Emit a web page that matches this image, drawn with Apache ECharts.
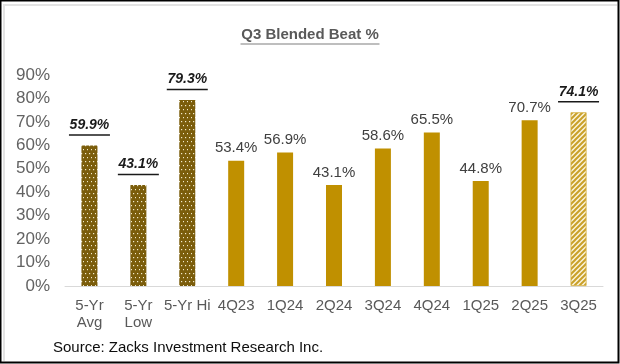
<!DOCTYPE html>
<html>
<head>
<meta charset="utf-8">
<script src="https://cdn.jsdelivr.net/npm/echarts@6/dist/echarts.min.js"></script>
<style>
html,body{margin:0;padding:0;background:#fff;}
#c{width:620px;height:364px;}
</style>
</head>
<body>
<div id="c"></div>
<script>
// ---- data ----
var categories = ['5-Yr\nAvg', '5-Yr\nLow', '5-Yr Hi', '4Q23', '1Q24', '2Q24', '3Q24', '4Q24', '1Q25', '2Q25', '3Q25'];
var values = [59.9, 43.1, 79.3, 53.4, 56.9, 43.1, 58.6, 65.5, 44.8, 70.7, 74.1];
var kinds = ['bench', 'bench', 'bench', 'actual', 'actual', 'actual', 'actual', 'actual', 'actual', 'actual', 'estimate'];
var yTicks = [0, 10, 20, 30, 40, 50, 60, 70, 80, 90];
var titleText = 'Q3 Blended Beat %';
var sourceText = 'Source: Zacks Investment Research Inc.';

var FONT = '"Liberation Sans", Arial, sans-serif';

function measure(txt, font) {
  var cv = document.createElement('canvas');
  var ctx = cv.getContext('2d');
  ctx.font = font;
  return ctx.measureText(txt).width;
}

function dotPattern() {
  var cv = document.createElement('canvas');
  cv.width = 4; cv.height = 8;
  var ctx = cv.getContext('2d');
  ctx.fillStyle = '#7B5D0B';
  ctx.fillRect(0, 0, 4, 8);
  ctx.fillStyle = 'rgba(255,250,225,0.9)';
  ctx.fillRect(1, 1, 1.2, 1.2);
  ctx.fillRect(3, 5, 1.2, 1.2);
  return cv;
}
function hatchPattern() {
  var s = 5;
  var cv = document.createElement('canvas');
  cv.width = s; cv.height = s;
  var ctx = cv.getContext('2d');
  ctx.fillStyle = '#FBF3DA';
  ctx.fillRect(0, 0, s, s);
  ctx.strokeStyle = '#C9A02A';
  ctx.lineWidth = 2;
  ctx.beginPath();
  ctx.moveTo(-1, s + 1); ctx.lineTo(s + 1, -1);
  ctx.moveTo(-1, 1); ctx.lineTo(1, -1);
  ctx.moveTo(s - 1, s + 1); ctx.lineTo(s + 1, s - 1);
  ctx.stroke();
  return cv;
}

var dotImg = dotPattern();
var hatchImg = hatchPattern();

var boldLabelFont = 'italic bold 14px ' + FONT;

var seriesData = values.map(function (v, i) {
  var k = kinds[i];
  var item = { value: v };
  if (k === 'bench') {
    item.itemStyle = { color: { image: dotImg, repeat: 'repeat' } };
  } else if (k === 'estimate') {
    item.itemStyle = { color: { image: hatchImg, repeat: 'repeat' }, borderColor: '#D4AE3E', borderWidth: 0.8 };
  } else {
    item.itemStyle = { color: '#C09000' };
  }
  if (k === 'bench' || k === 'estimate') {
    var txt = v.toFixed(1) + '%';
    var w = Math.round(measure(txt, boldLabelFont)) + 1;
    item.label = {
      distance: 9,
      formatter: '{b|' + txt + '}\n{u|}',
      rich: {
        b: { fontSize: 14, fontStyle: 'italic', fontWeight: 'bold', color: '#1a1a1a', fontFamily: FONT, lineHeight: 17 },
        u: { width: w, height: 1.5, lineHeight: 3, backgroundColor: '#1a1a1a' }
      }
    };
  }
  return item;
});

var titleFont = 'bold 15px ' + FONT;
var titleW = Math.round(measure(titleText, titleFont)) + 1;

var chart = echarts.init(document.getElementById('c'), null, { renderer: 'canvas' });
chart.setOption({
  animation: false,
  backgroundColor: '#fff',
  title: {
    text: '{t|' + titleText + '}\n{u|}',
    left: 'center',
    top: 21,
    textStyle: {
      rich: {
        t: { fontSize: 15, fontWeight: 'bold', color: '#595959', fontFamily: FONT, lineHeight: 17 },
        u: { width: titleW, height: 1.2, lineHeight: 2, backgroundColor: '#7f7f7f' }
      }
    }
  },
  grid: { left: 65, right: 17, top: 75, bottom: 78, containLabel: false },
  xAxis: {
    type: 'category',
    data: categories,
    axisLine: { lineStyle: { color: '#D9D9D9', width: 1 } },
    axisTick: { show: false },
    axisLabel: { color: '#595959', fontSize: 15, fontFamily: FONT, lineHeight: 17, margin: 11, interval: 0 }
  },
  yAxis: {
    type: 'value',
    min: 0, max: 90, interval: 10,
    axisLine: { show: false },
    axisTick: { show: false },
    splitLine: { show: false },
    axisLabel: {
      color: '#636363', fontSize: 17, fontFamily: FONT, margin: 15,
      formatter: function (v) { return yTicks.indexOf(v) >= 0 ? v + '%' : ''; }
    }
  },
  series: [{
    type: 'bar',
    data: seriesData,
    barWidth: 16,
    label: {
      show: true,
      position: 'top',
      distance: 5,
      color: '#404040',
      fontSize: 15,
      fontFamily: FONT,
      formatter: function (p) { return p.value.toFixed(1) + '%'; }
    }
  }],
  graphic: [
    { type: 'rect', shape: { x: 0.5, y: 0.5, width: 618, height: 362 }, style: { fill: 'none', stroke: '#000', lineWidth: 2 }, silent: true },
    { type: 'line', shape: { x1: 3, y1: 5, x2: 617, y2: 5 }, style: { stroke: '#E3E3E3', lineWidth: 2 }, silent: true },
    { type: 'line', shape: { x1: 4, y1: 5, x2: 4, y2: 361 }, style: { stroke: '#E3E3E3', lineWidth: 2 }, silent: true },
    { type: 'text', left: 53, top: 340, style: { text: sourceText, font: '15px ' + FONT, fill: '#0d0d0d' }, silent: true }
  ]
});
</script>
</body>
</html>
